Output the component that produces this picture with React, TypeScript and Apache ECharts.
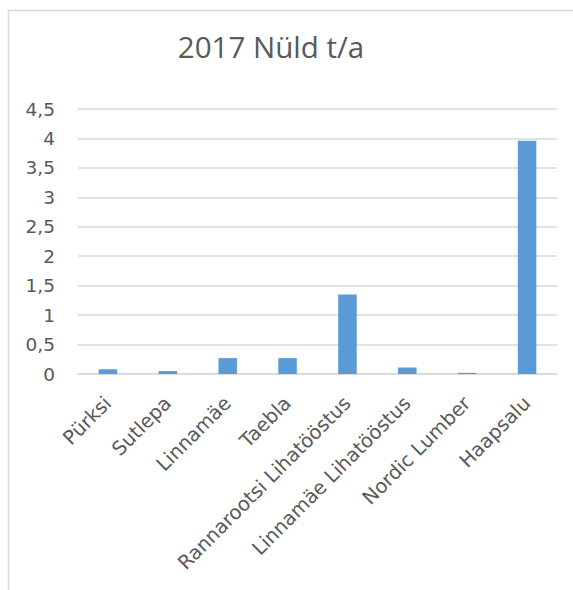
import React, { useEffect, useRef } from "react";
import * as echarts from "echarts";

// Plant names along the category axis
const categories = [
  "Pürksi",
  "Sutlepa",
  "Linnamäe",
  "Taebla",
  "Rannarootsi Lihatööstus",
  "Linnamäe Lihatööstus",
  "Nordic Lumber",
  "Haapsalu",
];

// Total nitrogen load, t/a (2017)
const nitrogen2017 = [0.08, 0.05, 0.27, 0.27, 1.35, 0.11, 0.02, 3.96];

const chartTitle = "2017 Nüld t/a";

const yMin = 0;
const yMax = 4.5;
const yStep = 0.5;

const textColor = "#595959";
const lineColor = "#d9d9d9";
const barColor = "#5b9bd5";

export default function App() {
  const ref = useRef<HTMLDivElement>(null);

  useEffect(() => {
    if (!ref.current) return;
    const chart = echarts.init(ref.current, null, { renderer: "svg" });
    chart.setOption({
      animation: false,
      graphic: [
        {
          type: "polyline",
          shape: { points: [[8.5, 600], [8.5, 10.5], [600, 10.5]] },
          style: { stroke: lineColor, lineWidth: 1.6, fill: "none" },
          silent: true,
        },
        {
          type: "text",
          x: 271,
          y: 46,
          style: {
            text: chartTitle,
            fontFamily: "Open Sans",
            fontSize: 29.5,
            fill: textColor,
            align: "center",
            verticalAlign: "middle",
          },
        },
      ],
      grid: { left: 78, right: 16, top: 109, bottom: 216, containLabel: false },
      xAxis: {
        type: "category",
        data: categories,
        axisLine: { show: true, lineStyle: { color: lineColor, width: 1.5 } },
        axisTick: { show: false },
        axisLabel: {
          rotate: 45,
          interval: 0,
          margin: 26,
          color: textColor,
          fontFamily: "DejaVu Sans",
          fontSize: 19.5,
        },
      },
      yAxis: {
        type: "value",
        min: yMin,
        max: yMax,
        interval: yStep,
        axisLine: { show: false },
        axisTick: { show: false },
        splitLine: { lineStyle: { color: lineColor, width: 1.5 } },
        axisLabel: {
          margin: 23,
          color: textColor,
          fontFamily: "DejaVu Sans",
          fontSize: 18.5,
          formatter: (v: number) => String(v).replace(".", ","),
        },
      },
      series: [
        {
          type: "bar",
          data: nitrogen2017,
          barWidth: 18.5,
          itemStyle: { color: barColor },
        },
      ],
    });
    return () => chart.dispose();
  }, []);

  return (
    <div
      ref={ref}
      style={{ position: "absolute", left: 0, top: 0, width: 573, height: 590, background: "#fff" }}
    />
  );
}
